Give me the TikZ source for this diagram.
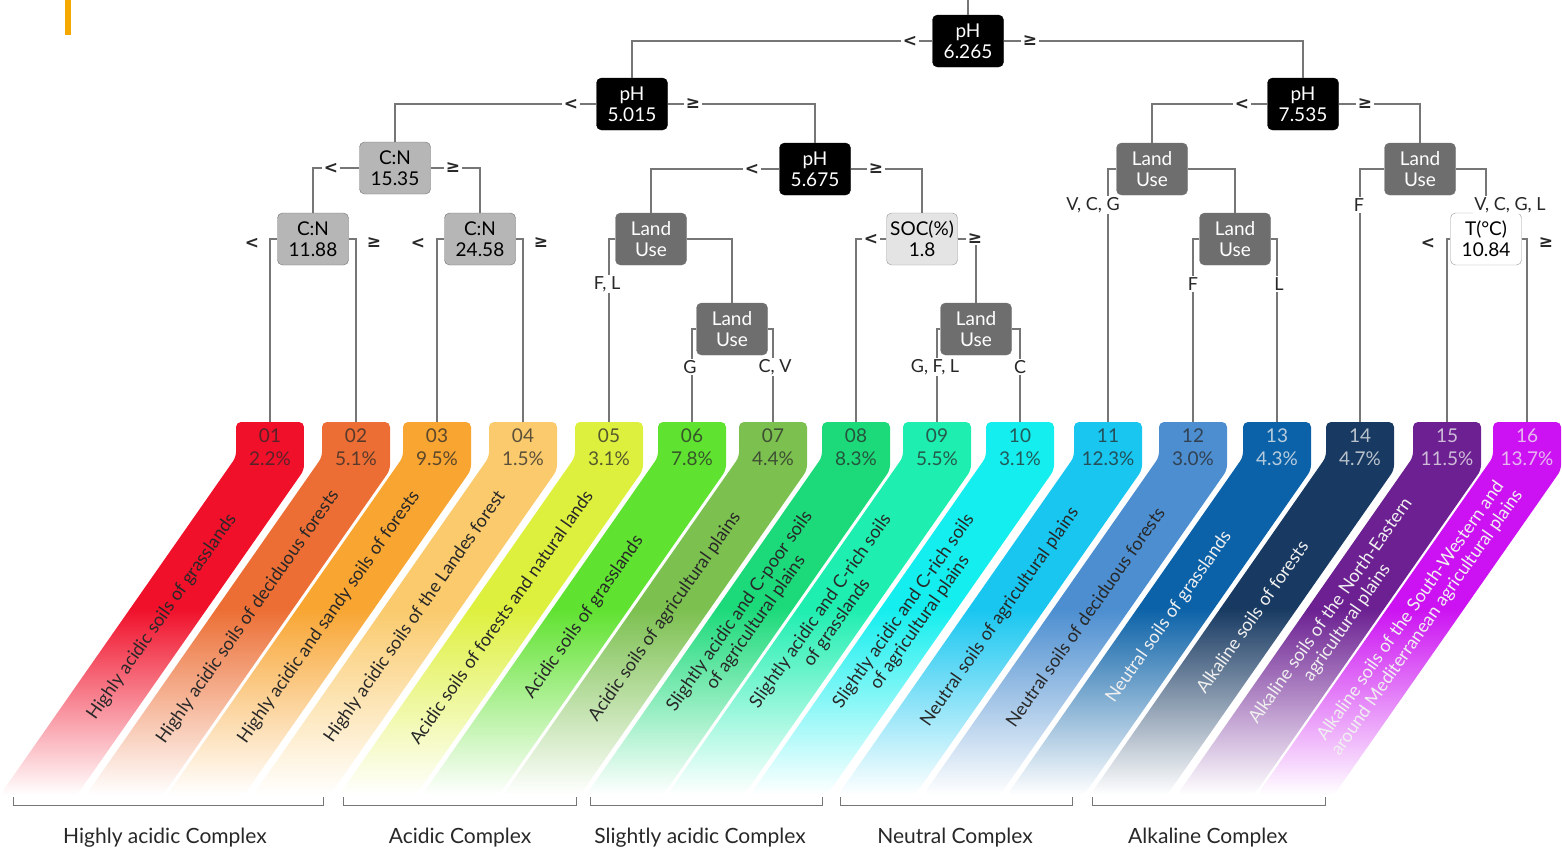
\documentclass[tikz,border=0pt]{standalone}
\usepackage{fontspec}
\setmainfont{Lato}
\newfontfamily\symfont{DejaVu Sans}
\usepackage{tikz}
\definecolor{linkgray}{RGB}{118,118,118}
\definecolor{cngray}{RGB}{182,182,182}
\definecolor{lugray}{RGB}{110,110,110}
\definecolor{socgray}{RGB}{228,228,228}
\definecolor{marker}{RGB}{245,168,0}
\definecolor{dark}{RGB}{40,40,40}
\definecolor{light}{RGB}{240,240,240}
\definecolor{c01}{RGB}{240,16,42}
\definecolor{c02}{RGB}{236,110,52}
\definecolor{c03}{RGB}{248,165,50}
\definecolor{c04}{RGB}{250,202,108}
\definecolor{c05}{RGB}{222,240,62}
\definecolor{c06}{RGB}{96,226,48}
\definecolor{c07}{RGB}{124,192,80}
\definecolor{c08}{RGB}{28,218,122}
\definecolor{c09}{RGB}{30,238,176}
\definecolor{c10}{RGB}{20,238,238}
\definecolor{c11}{RGB}{24,198,240}
\definecolor{c12}{RGB}{76,142,208}
\definecolor{c13}{RGB}{12,98,168}
\definecolor{c14}{RGB}{24,58,98}
\definecolor{c15}{RGB}{108,32,146}
\definecolor{c16}{RGB}{204,18,242}

\begin{document}
\begin{tikzpicture}[
    x=1pt, y=-1pt,
    split/.style={rectangle, rounded corners=5pt, minimum width=71pt, minimum height=52pt, inner sep=0pt, align=center, font=\fontsize{19}{21}\selectfont},
    phnode/.style={split, fill=black, draw=black, text=white},
    cnnode/.style={split, fill=cngray, draw=black!55},
    lunode/.style={split, fill=lugray, draw=black!55, text=white},
    socnode/.style={split, fill=socgray, draw=black!40},
    tnode/.style={split, fill=white, draw=black!40},
    link/.style={draw=linkgray, line width=1.3pt},
    cond/.style={fill=white, inner sep=1.5pt, text=dark, font=\fontsize{18}{20}\selectfont},
    sign/.style={cond, font=\symfont\bfseries\fontsize{17}{20}\selectfont},
    leaf/.style={minimum width=68pt, minimum height=50pt, inner sep=0pt, align=center, text opacity=0.75, font=\fontsize{19}{23}\selectfont},
    soil/.style={rotate=55, align=center, font=\fontsize{18}{20}\selectfont},
    complex/.style={text=dark, font=\fontsize{21}{24}\selectfont}
]
    \useasboundingbox (0,0) rectangle (1562,857);
    \fill[marker] (65,0) rectangle (71,35);

    % leaves and their bands
    \foreach \x/\n/\p/\col/\tc/\soiltext in {
        270/01/2.2/c01/dark/{Highly acidic soils of grasslands},
        356/02/5.1/c02/dark/{Highly acidic soils of deciduous forests},
        437/03/9.5/c03/dark/{Highly acidic and sandy soils of forests},
        523/04/1.5/c04/dark/{Highly acidic soils of the Landes forest},
        609/05/3.1/c05/dark/{Acidic soils of forests and natural lands},
        692/06/7.8/c06/dark/{Acidic soils of grasslands},
        773/07/4.4/c07/dark/{Acidic soils of agricultural plains},
        856/08/8.3/c08/dark/{Slightly acidic and C-poor soils\\of agricultural plains},
        937/09/5.5/c09/dark/{Slightly acidic and C-rich soils\\of grasslands},
        1020/10/3.1/c10/dark/{Slightly acidic and C-rich soils\\of agricultural plains},
        1108/11/12.3/c11/dark/{Neutral soils of agricultural plains},
        1193/12/3.0/c12/dark/{Neutral soils of deciduous forests},
        1277/13/4.3/c13/light/{Neutral soils of grasslands},
        1360/14/4.7/c14/light/{Alkaline soils of forests},
        1447/15/11.5/c15/light/{Alkaline soils of the North-Eastern\\agricultural plains},
        1527/16/13.7/c16/light/{Alkaline soils of the South-Western and\\around Mediterranean agricultural plains}} {
        \shade[rounded corners=5pt, top color=\col, bottom color=white, middle color=\col]
            (\x-34,457) -- (\x-34,422) -- (\x+34,422) -- (\x+34,470) -- (\x+34-227,795) -- (\x-34-236,795) -- cycle;
        \node[leaf, text=\tc] (l\n) at (\x,447) {\n\\\p\%};
        \node[soil, text=\tc] (s\n) at (\x-108,617) {\soiltext};
    }

    % split nodes
    \node[phnode] (root) at (968,41) {pH\\6.265};
    \node[phnode] (ph1) at (632,104) {pH\\5.015};
    \node[phnode] (ph3) at (1303,104) {pH\\7.535};
    \node[cnnode] (cn1) at (395,168) {C:N\\15.35};
    \node[phnode] (ph2) at (815,169) {pH\\5.675};
    \node[lunode] (lu4) at (1152,169) {Land\\Use};
    \node[lunode] (lu6) at (1420,169) {Land\\Use};
    \node[cnnode] (cn2) at (313,239) {C:N\\11.88};
    \node[cnnode] (cn3) at (480,239) {C:N\\24.58};
    \node[lunode] (lu1) at (651,239) {Land\\Use};
    \node[socnode] (soc) at (922,239) {SOC(\%)\\1.8};
    \node[lunode] (lu5) at (1235,239) {Land\\Use};
    \node[tnode] (tc) at (1486,239) {T(°C)\\10.84};
    \node[lunode] (lu2) at (732,329) {Land\\Use};
    \node[lunode] (lu3) at (976,329) {Land\\Use};
    \coordinate (top) at (968,0);

    % branches
    \draw[link] (root.north) -- (top);
    \draw[link] (root.west) -| (ph1.north);
    \draw[link] (root.east) -| (ph3.north);
    \draw[link] (ph1.west) -| (cn1.north);
    \draw[link] (ph1.east) -| (ph2.north);
    \draw[link] (ph3.west) -| (lu4.north);
    \draw[link] (ph3.east) -| (lu6.north);
    \draw[link] (cn1.west) -| (cn2.north);
    \draw[link] (cn1.east) -| (cn3.north);
    \draw[link] (ph2.west) -| (lu1.north);
    \draw[link] (ph2.east) -| (soc.north);
    \draw[link] (lu4.east) -| (lu5.north);
    \draw[link] (lu6.east) -| (tc.north);
    \draw[link] (lu1.east) -| (lu2.north);
    \draw[link] (soc.east) -| (lu3.north);
    \draw[link] (cn2.west) -| (l01.north);
    \draw[link] (cn2.east) -| (l02.north);
    \draw[link] (cn3.west) -| (l03.north);
    \draw[link] (cn3.east) -| (l04.north);
    \draw[link] (lu1.west) -| (l05.north);
    \draw[link] (lu2.west) -| (l06.north);
    \draw[link] (lu2.east) -| (l07.north);
    \draw[link] (soc.west) -| (l08.north);
    \draw[link] (lu3.west) -| (l09.north);
    \draw[link] (lu3.east) -| (l10.north);
    \draw[link] (lu4.west) -| (l11.north);
    \draw[link] (lu5.west) -| (l12.north);
    \draw[link] (lu5.east) -| (l13.north);
    \draw[link] (lu6.west) -| (l14.north);
    \draw[link] (tc.west) -| (l15.north);
    \draw[link] (tc.east) -| (l16.north);

    % branch conditions
    \node[sign] (rootl) at (910,41) {<};
    \node[sign] (rootr) at (1030,41) {≥};
    \node[sign] (ph1l) at (571,104) {<};
    \node[sign] (ph1r) at (693,104) {≥};
    \node[sign] (ph3l) at (1242,104) {<};
    \node[sign] (ph3r) at (1365,104) {≥};
    \node[sign] (cn1l) at (331,168) {<};
    \node[sign] (cn1r) at (453,168) {≥};
    \node[sign] (ph2l) at (752,169) {<};
    \node[sign] (ph2r) at (876,169) {≥};
    \node[sign] (cn2l) at (252,243) {<};
    \node[sign] (cn2r) at (374,243) {≥};
    \node[sign] (cn3l) at (418,243) {<};
    \node[sign] (cn3r) at (541,243) {≥};
    \node[sign] (socl) at (871,239) {<};
    \node[sign] (socr) at (975,239) {≥};
    \node[sign] (tcl) at (1428,243) {<};
    \node[sign] (tcr) at (1546,243) {≥};
    \node[cond] (lu1l) at (607,284) {F, L};
    \node[cond] (lu2l) at (690,367) {G};
    \node[cond] (lu2r) at (775,367) {C, V};
    \node[cond] (lu3l) at (935,367) {G, F, L};
    \node[cond] (lu3r) at (1020,367) {C};
    \node[cond] (lu4l) at (1093,205) {V, C, G};
    \node[cond] (lu5l) at (1193,284) {F};
    \node[cond] (lu5r) at (1279,284) {L};
    \node[cond] (lu6l) at (1359,205) {F};
    \node[cond] (lu6r) at (1510,205) {V, C, G, L};

    % complexes
    \draw[link, line width=1pt] (13,797) -- (13,805) -- (323,805) -- (323,797);
    \draw[link, line width=1pt] (343,797) -- (343,805) -- (576,805) -- (576,797);
    \draw[link, line width=1pt] (590,797) -- (590,805) -- (822,805) -- (822,797);
    \draw[link, line width=1pt] (840,797) -- (840,805) -- (1072,805) -- (1072,797);
    \draw[link, line width=1pt] (1092,797) -- (1092,805) -- (1325,805) -- (1325,797);
    \node[complex] (hac) at (165,838) {Highly acidic Complex};
    \node[complex] (ac) at (460,838) {Acidic Complex};
    \node[complex] (sac) at (700,838) {Slightly acidic Complex};
    \node[complex] (nc) at (955,838) {Neutral Complex};
    \node[complex] (alc) at (1208,838) {Alkaline Complex};
\end{tikzpicture}
\end{document}
